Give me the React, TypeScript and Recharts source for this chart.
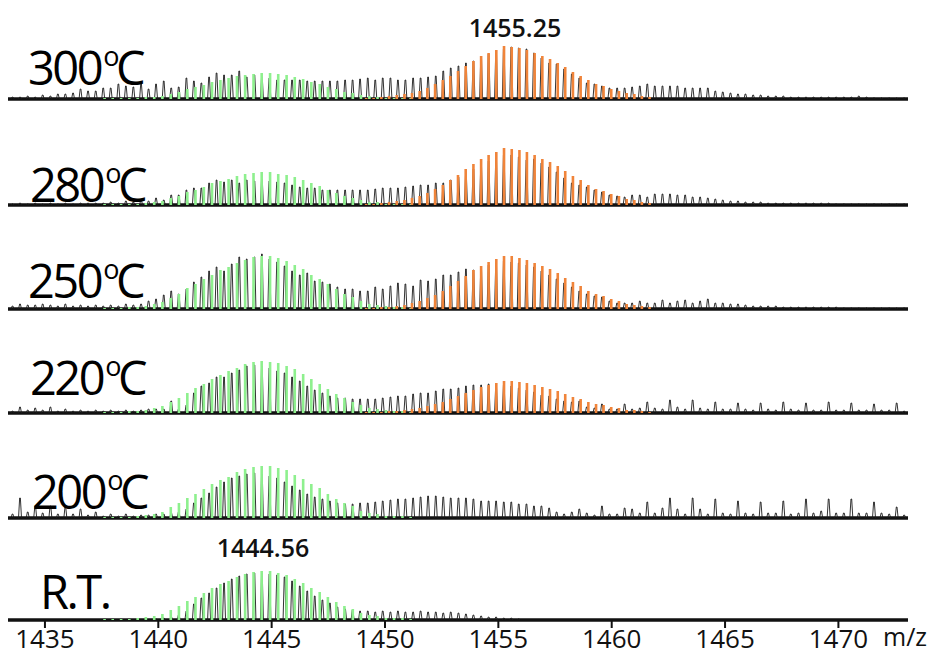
import { ScatterChart, Scatter, XAxis, YAxis, ReferenceLine } from "recharts";

// measured peak positions (m/z), shared by all six traces
const mzMeasured = [
  1433.57, 1433.9,
  1434.24, 1434.57, 1434.9, 1435.24, 1435.57, 1435.9, 1436.24, 1436.57, 1436.9,
  1437.24, 1437.57, 1437.9, 1438.24, 1438.57, 1438.9, 1439.24, 1439.57, 1439.9,
  1440.24, 1440.57, 1440.9, 1441.24, 1441.57, 1441.9, 1442.24, 1442.57, 1442.9,
  1443.24, 1443.57, 1443.9, 1444.24, 1444.57, 1444.9, 1445.24, 1445.57, 1445.9,
  1446.24, 1446.57, 1446.9, 1447.24, 1447.57, 1447.9, 1448.24, 1448.57, 1448.9,
  1449.24, 1449.57, 1449.9, 1450.24, 1450.57, 1450.9, 1451.24, 1451.57, 1451.9,
  1452.24, 1452.57, 1452.9, 1453.24, 1453.57, 1453.9, 1454.24, 1454.57, 1454.9,
  1455.24, 1455.57, 1455.9, 1456.24, 1456.57, 1456.9, 1457.24, 1457.57, 1457.9,
  1458.24, 1458.57, 1458.9, 1459.24, 1459.57, 1459.9, 1460.24, 1460.57, 1460.9,
  1461.24, 1461.57, 1461.9, 1462.24, 1462.57, 1462.9, 1463.24, 1463.57, 1463.9,
  1464.24, 1464.57, 1464.9, 1465.24, 1465.57, 1465.9, 1466.24, 1466.57, 1466.9,
  1467.24, 1467.57, 1467.9, 1468.24, 1468.57, 1468.9, 1469.24, 1469.57, 1469.9,
  1470.24, 1470.57, 1470.9, 1471.24, 1471.57, 1471.9, 1472.24, 1472.57, 1472.9,
];

// simulated isotope patterns
const mzGreen = [
  1437.63, 1437.99, 1438.36, 1438.72, 1439.09, 1439.45, 1439.82, 1440.18, 1440.55, 1440.91,
  1441.28, 1441.64, 1442.01, 1442.37, 1442.74, 1443.1, 1443.47, 1443.83, 1444.2, 1444.56,
  1444.93, 1445.29, 1445.66, 1446.02, 1446.39, 1446.75, 1447.12, 1447.48, 1447.85, 1448.21,
  1448.58, 1448.94, 1449.31, 1449.67, 1450.04, 1450.4, 1450.77, 1451.13,
];
const mzOrange = [
  1449.17, 1449.5, 1449.84, 1450.18, 1450.52, 1450.86, 1451.19, 1451.53, 1451.87, 1452.21,
  1452.55, 1452.88, 1453.22, 1453.56, 1453.9, 1454.24, 1454.57, 1454.91, 1455.25, 1455.59,
  1455.93, 1456.26, 1456.6, 1456.94, 1457.28, 1457.62, 1457.95, 1458.29, 1458.63, 1458.97,
  1459.31, 1459.64, 1459.98, 1460.32, 1460.66, 1461.0, 1461.33, 1461.67,
];

// measured intensities (a.u.)
const measured300 = [
  2, 2, 3, 2, 4, 3, 5, 5, 6, 10, 8, 8, 11, 11, 15, 13, 12, 15, 10, 15,
  18, 11, 12, 21, 18, 16, 22, 26, 24, 24, 28, 22, 24, 22, 21, 19, 19, 19, 19, 18,
  18, 18, 18, 18, 19, 19, 20, 21, 19, 21, 21, 19, 19, 21, 21, 22, 23, 28, 31, 33,
  36, 38, 42, 45, 48, 50, 52, 51, 50, 46, 41, 36, 35, 30, 25, 21, 16, 15, 13, 11,
  11, 11, 12, 13, 15, 13, 13, 13, 13, 11, 11, 11, 11, 8, 7, 6, 5, 5, 4, 4,
  3, 3, 3, 2, 2, 2, 2, 2, 2, 2, 2, 2, 3, 2, 1, 1, 1, 1, 1,
];
const measured280 = [
  1, 2, 1, 2, 1, 2, 1, 2, 1, 2, 2, 2, 2, 3, 2, 4, 3, 5, 4, 7,
  5, 10, 10, 15, 17, 17, 22, 25, 23, 25, 22, 25, 24, 26, 24, 23, 22, 20, 18, 17,
  17, 15, 15, 15, 15, 15, 15, 15, 16, 17, 17, 17, 18, 19, 20, 20, 22, 22, 25, 28,
  32, 36, 40, 44, 47, 50, 50, 48, 45, 46, 42, 38, 33, 27, 22, 20, 18, 15, 13, 10,
  9, 8, 10, 10, 8, 11, 11, 11, 10, 10, 8, 8, 7, 6, 5, 4, 4, 3, 3, 3,
  2, 2, 2, 2, 2, 2, 2, 2, 2, 1, 1, 1, 1, 1, 1, 1, 1, 1, 1,
];
const measured250 = [
  3, 5, 4, 4, 5, 4, 3, 5, 3, 4, 3, 4, 3, 4, 3, 5, 4, 5, 8, 10,
  14, 18, 15, 20, 27, 32, 38, 42, 38, 45, 52, 50, 52, 55, 50, 47, 43, 38, 34, 36,
  28, 27, 25, 22, 20, 20, 18, 18, 22, 20, 23, 26, 25, 23, 29, 28, 30, 34, 34, 37,
  40, 39, 41, 44, 46, 48, 47, 46, 44, 42, 38, 34, 30, 26, 22, 18, 15, 13, 12, 8,
  6, 6, 6, 8, 6, 6, 9, 6, 8, 9, 6, 8, 10, 6, 6, 5, 5, 4, 3, 3,
  3, 3, 2, 2, 2, 2, 2, 2, 2, 2, 1, 1, 1, 1, 1, 1, 1, 1, 1,
];
const measured220 = [
  2, 6, 3, 5, 3, 6, 2, 4, 2, 3, 2, 3, 2, 3, 2, 3, 2, 3, 4, 4,
  4, 12, 4, 8, 20, 27, 30, 36, 36, 40, 43, 47, 48, 47, 45, 42, 40, 36, 32, 27,
  23, 20, 17, 15, 15, 14, 14, 14, 14, 15, 16, 17, 17, 19, 20, 20, 22, 24, 24, 25,
  27, 28, 28, 29, 28, 28, 27, 25, 23, 21, 18, 17, 14, 12, 11, 12, 6, 5, 9, 4,
  4, 9, 4, 5, 11, 5, 4, 13, 6, 4, 13, 5, 4, 11, 4, 4, 10, 4, 3, 10,
  4, 3, 11, 4, 3, 10, 3, 3, 11, 3, 3, 10, 3, 3, 9, 3, 3, 10, 2,
];
const measured200 = [
  4, 20, 6, 12, 5, 12, 4, 11, 4, 9, 3, 6, 2, 4, 2, 4, 2, 3, 3, 4,
  4, 5, 6, 9, 15, 20, 25, 31, 36, 40, 42, 44, 45, 44, 42, 40, 36, 32, 28, 24,
  21, 19, 17, 15, 14, 14, 15, 15, 16, 17, 18, 19, 19, 20, 21, 22, 22, 21, 20, 20,
  20, 19, 17, 17, 17, 16, 16, 14, 14, 12, 12, 10, 6, 4, 6, 9, 5, 3, 12, 4,
  4, 10, 9, 5, 16, 5, 10, 20, 9, 4, 20, 9, 4, 19, 5, 4, 17, 5, 4, 16,
  5, 5, 17, 4, 5, 19, 5, 7, 19, 5, 5, 19, 5, 5, 16, 5, 4, 11, 3,
];
const measuredRT = [
  0, 0, 0, 0, 0, 0, 0, 0, 0, 0, 0, 0, 0, 0, 0, 0, 0, 0, 0, 1,
  2, 3, 5, 9, 16, 22, 27, 32, 37, 41, 44, 46, 47, 47, 46, 45, 43, 39, 34, 29,
  24, 20, 17, 13, 11, 10, 9, 9, 8, 9, 8, 9, 8, 8, 9, 8, 8, 7, 8, 7,
  6, 5, 4, 3, 3, 2, 2, 1, 0, 0, 0, 0, 0, 0, 0, 0, 0, 0, 0, 0,
  0, 0, 0, 0, 0, 0, 0, 0, 0, 0, 0, 0, 0, 0, 0, 0, 0, 0, 0, 0,
  0, 0, 0, 0, 0, 0, 0, 0, 0, 0, 0, 0, 0, 0, 0, 0, 0, 0, 0,
];

const green300 = [1, 1, 1, 1, 1, 2, 2, 3, 5, 7, 10, 12, 14, 17, 19, 21, 23, 24, 25, 26, 26, 25, 24, 22, 20, 17, 15, 12, 10, 7, 6, 4, 3, 2, 1, 1, 1, 1];
const green280 = [1, 1, 1, 1, 1, 2, 3, 4, 7, 9, 13, 15, 18, 22, 24, 26, 29, 31, 32, 33, 33, 31, 30, 28, 25, 22, 19, 15, 12, 9, 7, 5, 3, 3, 1, 1, 1, 1];
const green250 = [1, 1, 1, 2, 2, 3, 5, 7, 11, 15, 21, 25, 30, 34, 39, 42, 46, 49, 52, 53, 53, 51, 48, 44, 40, 34, 30, 25, 20, 15, 12, 8, 5, 4, 3, 2, 2, 1];
const green220 = [1, 1, 1, 2, 2, 3, 5, 7, 11, 15, 20, 25, 29, 34, 38, 42, 45, 49, 51, 52, 51, 50, 47, 44, 39, 34, 29, 24, 19, 15, 11, 8, 5, 4, 3, 2, 2, 1];
const green200 = [1, 1, 1, 1, 2, 3, 4, 6, 11, 15, 20, 24, 29, 34, 38, 41, 46, 49, 51, 52, 52, 50, 48, 43, 39, 34, 30, 24, 19, 15, 12, 7, 5, 4, 2, 2, 2, 1];
const greenRT = [1, 1, 1, 1, 2, 3, 4, 6, 10, 14, 19, 23, 27, 32, 36, 39, 43, 46, 48, 49, 49, 47, 45, 41, 37, 32, 28, 23, 18, 14, 11, 7, 5, 4, 2, 2, 2, 1];

const orange300 = [1, 1, 2, 3, 4, 5, 6, 8, 11, 15, 19, 23, 28, 33, 38, 43, 46, 49, 53, 52, 51, 49, 46, 43, 40, 36, 32, 27, 23, 19, 15, 13, 10, 8, 6, 5, 3, 2];
const orange280 = [1, 1, 2, 3, 4, 5, 7, 9, 12, 16, 20, 25, 30, 36, 41, 46, 50, 53, 57, 56, 55, 53, 50, 46, 43, 39, 34, 29, 25, 20, 16, 14, 11, 9, 6, 5, 3, 2];
const orange250 = [1, 1, 2, 2, 3, 4, 6, 8, 11, 14, 18, 23, 28, 33, 39, 43, 47, 50, 53, 53, 51, 49, 46, 43, 40, 36, 31, 27, 23, 18, 15, 13, 10, 8, 5, 4, 3, 2];
const orange220 = [1, 1, 1, 2, 2, 3, 4, 5, 7, 9, 11, 14, 17, 20, 23, 26, 28, 30, 32, 32, 31, 30, 28, 26, 24, 22, 19, 16, 14, 11, 9, 8, 6, 5, 3, 3, 2, 1];

const panelLabels = ["300", "280", "250", "220", "200", "R.T."];
const xTicks = [1435, 1440, 1445, 1450, 1455, 1460, 1465, 1470];
const peakLabels = [
  { text: "1455.25", x: 515, y: 37 },
  { text: "1444.56", x: 263, y: 557 },
];

const W = 937;
const PLOT_H = 60;
const M_TOP = 8;
const BASE = M_TOP + PLOT_H;
const AXIS_H = 36;
const FONT = "'Open Sans', 'Noto Sans', sans-serif";

const toPoints = (mz: number[], v: number[]) => mz.map((m, i) => ({ mz: m, v: v[i] }));

const stickShape = (color: string) => (props: any) => {
  const { cx, cy } = props;
  const h = BASE - cy;
  if (!(h > 0.3)) return <g />;
  return <rect x={cx - 1.3} y={cy} width={2.6} height={h} fill={color} />;
};
const greenStick = stickShape("#8ef08e");
const orangeStick = stickShape("#f0843a");

// measured trace: narrow peak outline for each isotope
const peakShape = (props: any) => {
  const { cx, cy } = props;
  if (!(BASE - cy > 0.3)) return <g />;
  return (
    <path
      d={`M${cx - 1.5},${BASE} L${cx - 0.35},${cy} L${cx + 0.35},${cy} L${cx + 1.5},${BASE}`}
      fill="none"
      stroke="#1c1c1c"
      strokeWidth={0.9}
    />
  );
};

interface PanelProps {
  top: number;
  measured: number[];
  green: number[];
  orange?: number[];
  last?: boolean;
}

function Panel({ top, measured, green, orange, last }: PanelProps) {
  const height = last ? BASE + AXIS_H : BASE + 2;
  return (
    <div style={{ position: "absolute", left: 0, top }}>
      <ScatterChart
        width={W}
        height={height}
        margin={{ top: M_TOP, right: 29, left: 8, bottom: last ? 0 : 2 }}
      >
        <XAxis
          type="number"
          dataKey="mz"
          domain={[1433.37, 1473.07]}
          allowDataOverflow
          hide={!last}
          height={AXIS_H}
          ticks={xTicks}
          interval={0}
          axisLine={{ stroke: "#111", strokeWidth: 3.5 }}
          tickLine={{ stroke: "#111", strokeWidth: 2 }}
          tickSize={8}
          tickMargin={2}
          tick={{ fill: "#111", fontSize: 26, fontFamily: FONT, fontWeight: 500 }}
        />
        <YAxis type="number" dataKey="v" domain={[0, 60]} allowDataOverflow hide />
        <Scatter data={toPoints(mzMeasured, measured)} shape={peakShape} isAnimationActive={false} />
        <Scatter data={toPoints(mzGreen, green)} shape={greenStick} isAnimationActive={false} />
        {orange && (
          <Scatter data={toPoints(mzOrange, orange)} shape={orangeStick} isAnimationActive={false} />
        )}
        {!last && <ReferenceLine y={0} stroke="#111" strokeWidth={3.5} />}
      </ScatterChart>
    </div>
  );
}

const labelPos = [
  { x: 28, y: 85 },
  { x: 30, y: 202 },
  { x: 28, y: 298 },
  { x: 30, y: 395 },
  { x: 32, y: 509 },
  { x: 40, y: 609 },
];

export default function App() {
  return (
    <div
      style={{
        position: "absolute",
        left: 0,
        top: 0,
        width: W,
        height: 656,
        background: "#fff",
        overflow: "hidden",
      }}
    >
      <Panel top={99 - BASE} measured={measured300} green={green300} orange={orange300} />
      <Panel top={205 - BASE} measured={measured280} green={green280} orange={orange280} />
      <Panel top={309 - BASE} measured={measured250} green={green250} orange={orange250} />
      <Panel top={413 - BASE} measured={measured220} green={green220} orange={orange220} />
      <Panel top={518 - BASE} measured={measured200} green={green200} />
      <Panel top={620 - BASE} measured={measuredRT} green={greenRT} last />
      <svg
        width={W}
        height={656}
        style={{ position: "absolute", left: 0, top: 0, pointerEvents: "none" }}
      >
        {panelLabels.map((t, i) => (
          <text
            key={t}
            x={labelPos[i].x}
            y={labelPos[i].y}
            fontFamily={FONT}
            fontSize={47}
            letterSpacing={-2.5}
            fill="#000"
          >
            {t}
            {t !== "R.T." && (
              <>
                <tspan fontSize={27} dy={-19} dx={2}>o</tspan>
                <tspan dy={19} dx={-1}>C</tspan>
              </>
            )}
          </text>
        ))}
        {peakLabels.map((p) => (
          <text
            key={p.text}
            x={p.x}
            y={p.y}
            textAnchor="middle"
            fontFamily={FONT}
            fontSize={25}
            fontWeight={600}
            fill="#111"
          >
            {p.text}
          </text>
        ))}
        <text x={883} y={646} fontFamily={FONT} fontSize={25} fontWeight={500} fill="#111">
          m/z
        </text>
      </svg>
    </div>
  );
}
